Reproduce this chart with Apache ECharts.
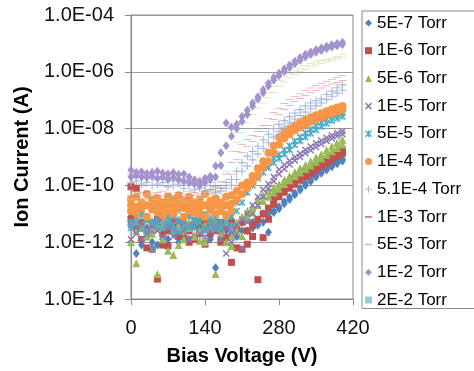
<!DOCTYPE html>
<html><head><meta charset="utf-8">
<script src="https://cdn.jsdelivr.net/npm/echarts@6/dist/echarts.min.js"></script>
<style>html,body{margin:0;padding:0;background:#fff}#c{width:474px;height:371px}</style>
</head><body><div id="c"></div>
<script>
// Bias voltage (V)
const voltages = [0,10,20,30,40,50,60,70,80,90,100,110,120,130,140,150,160,170,180,190,200,210,220,230,240,250,260,270,280,290,300,310,320,330,340,350,360,370,380,390,400];
const xTicks = [0, 420, 140];           // min, max, step
const yTickExps = [-14, -4, 2];         // log10 of min, max, step
const seriesNames = ['5E-7 Torr','1E-6 Torr','5E-6 Torr','1E-5 Torr','5E-5 Torr','1E-4 Torr','5.1E-4 Torr','1E-3 Torr','5E-3 Torr','1E-2 Torr','2E-2 Torr'];

// log10 of ion current (A); sweep a / sweep b per pressure
const p5e7a = [-11.4,-11.6,-12.1,-11.5,-11.3,-12.1,-11.4,-11.9,-11.5,-11.3,-11.6,-11.4,-11.8,-11.5,-11.3,-11.9,-12.9,-11.6,-11.4,-11.7,-11.5,-11.3,-11.6,-11.3,-11.2,-11.0,-11.65,-10.9,-10.75,-10.58,-10.42,-10.27,-10.1,-9.93,-9.78,-9.64,-9.51,-9.4,-9.28,-9.18,-9.08];
const p5e7b = [-11.1,-12.4,-11.3,-11.8,-12.0,-11.2,-11.9,-11.3,-11.7,-12.0,-11.4,-11.9,-11.3,-11.7,-12.0,-11.5,-11.3,-11.9,-11.6,-11.2,-11.8,-11.6,-11.2,-11.5,-11.4,-11.3,-11.0,-10.95,-10.82,-10.65,-10.5,-10.33,-10.16,-10.0,-9.85,-9.7,-9.57,-9.46,-9.34,-9.24,-9.14];
const p1e6a = [-10.05,-11.5,-11.9,-12.2,-11.4,-13.3,-12.1,-11.6,-11.3,-11.8,-11.4,-11.6,-11.9,-11.3,-12.07,-11.7,-11.5,-12.0,-11.84,-12.71,-12.2,-12.25,-12.07,-11.8,-13.32,-11.84,-11.19,-10.67,-10.4,-10.24,-10.1,-9.96,-9.82,-9.7,-9.58,-9.45,-9.33,-9.22,-9.1,-8.98,-8.87];
const p1e6b = [-11.2,-10.1,-11.3,-11.6,-12.25,-11.2,-11.7,-12.13,-11.5,-11.3,-11.8,-12.0,-11.4,-11.7,-11.3,-11.5,-11.6,-11.3,-11.5,-11.3,-11.5,-11.3,-11.6,-11.4,-11.2,-11.0,-10.8,-10.5,-10.25,-10.08,-9.94,-9.8,-9.67,-9.55,-9.43,-9.3,-9.18,-9.07,-8.96,-8.86,-8.76];
const p5e6a = [-12.0,-12.74,-11.5,-11.2,-11.7,-13.12,-11.4,-12.3,-12.45,-12.1,-11.6,-11.3,-11.8,-11.95,-11.4,-11.2,-13.12,-11.5,-11.3,-11.8,-11.3,-11.1,-10.9,-10.75,-10.49,-10.35,-10.2,-10.08,-9.96,-9.8,-9.67,-9.53,-9.4,-9.28,-9.15,-9.02,-8.9,-8.75,-8.62,-8.5,-8.39];
const p5e6b = [-11.3,-11.6,-11.0,-11.8,-11.3,-11.5,-11.9,-11.2,-11.6,-11.4,-11.9,-11.5,-11.2,-11.6,-12.0,-11.5,-11.3,-11.7,-12.0,-12.13,-11.6,-11.78,-11.1,-10.95,-10.7,-10.55,-10.4,-10.25,-10.12,-9.95,-9.82,-9.68,-9.55,-9.42,-9.3,-9.17,-9.05,-8.92,-8.8,-8.68,-8.56];
const p1e5a = [-11.9,-11.5,-11.3,-11.7,-11.4,-11.6,-11.2,-11.5,-11.8,-11.3,-11.6,-11.4,-11.2,-11.7,-11.5,-11.3,-11.6,-11.6,-12.4,-11.5,-11.4,-11.2,-11.0,-10.7,-10.4,-10.15,-9.95,-9.7,-9.44,-9.28,-9.13,-9.0,-8.88,-8.75,-8.63,-8.52,-8.42,-8.32,-8.24,-8.16,-8.09];
const p1e5b = [-11.4,-11.7,-11.9,-11.2,-11.6,-11.3,-11.8,-11.4,-11.2,-11.7,-11.4,-11.9,-11.5,-11.3,-11.8,-11.6,-11.4,-11.9,-11.5,-12.0,-11.7,-12.2,-11.3,-11.0,-10.7,-10.4,-10.1,-9.85,-9.6,-9.42,-9.26,-9.12,-9.0,-8.87,-8.76,-8.65,-8.54,-8.44,-8.35,-8.27,-8.2];
const p5e5a = [-11.3,-11.1,-11.5,-11.2,-12.25,-11.4,-11.0,-11.3,-11.6,-11.2,-11.4,-11.1,-11.5,-11.3,-11.0,-11.4,-11.2,-11.5,-11.3,-11.1,-10.6,-10.3,-10.0,-9.75,-9.55,-9.38,-9.2,-9.05,-8.91,-8.75,-8.6,-8.44,-8.3,-8.15,-8.02,-7.9,-7.78,-7.66,-7.56,-7.5,-7.45];
const p5e5b = [-11.5,-11.3,-11.0,-11.6,-11.3,-11.2,-11.5,-11.1,-11.4,-11.6,-11.2,-11.5,-11.3,-11.1,-11.6,-11.2,-11.5,-11.3,-11.0,-11.4,-10.9,-10.6,-10.25,-10.0,-9.75,-9.55,-9.38,-9.2,-9.05,-8.9,-8.75,-8.58,-8.44,-8.3,-8.17,-8.05,-7.93,-7.82,-7.72,-7.64,-7.57];
const p1e4a = [-10.5,-10.4,-10.6,-10.3,-10.5,-10.45,-10.6,-10.4,-10.5,-10.35,-10.55,-10.4,-10.6,-10.5,-10.3,-10.55,-10.45,-10.6,-10.4,-10.35,-10.2,-10.0,-9.9,-9.67,-9.4,-9.15,-8.85,-8.6,-8.3,-8.12,-8.0,-7.88,-7.78,-7.68,-7.6,-7.53,-7.46,-7.39,-7.32,-7.26,-7.2];
const p1e4b = [-10.9,-11.0,-10.8,-11.1,-10.85,-10.95,-11.05,-10.9,-11.0,-10.8,-11.1,-10.9,-10.95,-11.0,-11.1,-10.85,-11.0,-10.9,-11.05,-10.9,-10.5,-10.3,-10.1,-9.9,-9.65,-9.4,-9.15,-8.85,-8.56,-8.35,-8.2,-8.06,-7.95,-7.85,-7.76,-7.68,-7.6,-7.53,-7.46,-7.4,-7.34];
const p1e4c = [-10.7,-10.75,-10.7,-10.7,-10.68,-10.72,-10.8,-10.65,-10.75,-10.6,-10.8,-10.65,-10.78,-10.75,-10.7,-10.72,-10.7,-10.75,-10.7,-10.65];
const p51e4a = [-9.6,-9.7,-9.65,-9.75,-9.7,-9.8,-9.72,-9.78,-9.85,-9.75,-9.8,-9.9,-9.85,-9.95,-10.0,-9.9,-10.05,-10.1,-9.9,-9.79,-9.5,-9.2,-8.97,-8.8,-8.62,-8.4,-8.2,-8.0,-7.85,-7.72,-7.58,-7.45,-7.33,-7.2,-7.1,-7.02,-6.95,-6.8,-6.68,-6.56,-6.46];
const p51e4b = [-9.9,-9.85,-9.95,-9.9,-10.0,-9.95,-9.9,-10.05,-10.0,-9.95,-10.1,-10.0,-10.15,-10.1,-10.2,-10.15,-10.25,-10.2,-10.1,-10.0,-9.79,-9.5,-9.32,-9.1,-8.9,-8.7,-8.5,-8.3,-8.1,-7.95,-7.8,-7.66,-7.54,-7.42,-7.3,-7.2,-7.1,-6.98,-6.86,-6.75,-6.65];
const p1e3a = [-10.15,-10.2,-10.25,-10.2,-10.3,-10.25,-10.2,-10.3,-10.35,-10.25,-10.3,-10.2,-10.25,-10.3,-10.2,-10.15,-10.0,-9.85,-9.6,-9.2,-8.8,-8.55,-8.38,-8.25,-8.1,-7.9,-7.65,-7.44,-7.28,-7.12,-6.98,-6.88,-6.78,-6.67,-6.57,-6.48,-6.4,-6.33,-6.26,-6.2,-6.14];
const p1e3b = [-10.35,-10.4,-10.3,-10.45,-10.4,-10.35,-10.5,-10.4,-10.45,-10.5,-10.4,-10.45,-10.35,-10.5,-10.4,-10.3,-10.2,-10.1,-9.9,-9.6,-9.1,-8.85,-8.62,-8.45,-8.27,-8.1,-7.9,-7.68,-7.5,-7.33,-7.18,-7.05,-6.94,-6.84,-6.74,-6.65,-6.57,-6.5,-6.43,-6.37,-6.31];
const p5e3a = [-10.3,-10.25,-10.35,-10.3,-10.4,-10.3,-10.35,-10.25,-10.4,-10.3,-10.35,-10.4,-10.3,-10.35,-10.25,-10.2,-10.1,-9.9,-9.5,-8.8,-8.14,-7.8,-7.5,-7.25,-7.05,-6.9,-6.72,-6.5,-6.3,-6.15,-6.05,-5.95,-5.87,-5.78,-5.7,-5.65,-5.6,-5.56,-5.52,-5.45,-5.38];
const p5e3b = [-10.5,-10.45,-10.55,-10.5,-10.6,-10.5,-10.55,-10.45,-10.6,-10.5,-10.55,-10.6,-10.5,-10.45,-10.4,-10.35,-10.3,-10.2,-9.9,-9.2,-8.5,-8.14,-7.8,-7.5,-7.28,-7.1,-6.92,-6.72,-6.52,-6.36,-6.22,-6.1,-6.0,-5.91,-5.83,-5.76,-5.7,-5.65,-5.6,-5.54,-5.48];
const p1e2a = [-9.46,-9.55,-9.52,-9.58,-9.55,-9.5,-9.56,-9.6,-9.55,-9.62,-9.6,-9.7,-9.8,-9.85,-9.75,-9.68,-9.32,-8.85,-7.8,-7.95,-7.85,-7.57,-7.35,-7.1,-6.88,-6.63,-6.4,-6.2,-6.05,-5.9,-5.76,-5.63,-5.5,-5.38,-5.3,-5.22,-5.16,-5.1,-5.05,-5.0,-4.96];
const p1e2b = [-9.7,-9.65,-9.7,-9.72,-9.68,-9.75,-9.7,-9.78,-9.72,-9.8,-9.85,-9.9,-9.95,-10.0,-9.9,-9.79,-9.7,-9.3,-8.6,-8.27,-8.0,-7.75,-7.5,-7.2,-6.97,-6.74,-6.5,-6.3,-6.14,-5.99,-5.85,-5.72,-5.6,-5.48,-5.39,-5.31,-5.25,-5.19,-5.13,-5.08,-5.04];
const p2e2a = [-11.0,-11.2,-10.9,-11.1,-11.3,-11.0,-10.8,-11.2,-11.1,-10.9,-11.3,-11.0,-11.2,-10.9,-11.1,-11.0,-11.2,-10.8,-11.1,-11.0];

const sweeps = [[p5e7a,p5e7b],[p1e6a,p1e6b],[p5e6a,p5e6b],[p1e5a,p1e5b],[p5e5a,p5e5b],[p1e4b,p1e4c,p1e4a],[p51e4a,p51e4b],[p1e3a,p1e3b],[p5e3a,p5e3b],[p1e2a,p1e2b],[p2e2a]];

const X_PATH = 'path://M0,1.5L1.5,0L5,3.5L8.5,0L10,1.5L6.5,5L10,8.5L8.5,10L5,6.5L1.5,10L0,8.5L3.5,5Z';
const STAR_PATH = 'path://M0,1.5L1.5,0L5,3.5L8.5,0L10,1.5L6.5,5L10,8.5L8.5,10L5,6.5L1.5,10L0,8.5L3.5,5Z M4.3,0H5.7V10H4.3Z';
const PLUS_PATH = 'path://M4.3,0H5.7V4.3H10V5.7H5.7V10H4.3V5.7H0V4.3H4.3Z';
const DASH_PATH = 'path://M0,0H10V2.4H0Z';
const styles = [
  {c:'#4F81BD', s:'diamond', z:[7,9]},
  {c:'#C0504D', s:'rect', z:7},
  {c:'#9BBB59', s:'triangle', z:8},
  {c:'#8C78B4', s:X_PATH, z:7},
  {c:'#4BACC6', s:STAR_PATH, z:7},
  {c:'#F79646', s:'circle', z:8},
  {c:'#A9B9DA', s:PLUS_PATH, z:8},
  {c:'#D9707C', s:DASH_PATH, z:[8,2]},
  {c:'#BDD28F', s:DASH_PATH, z:[8,2]},
  {c:'#A293CC', s:'diamond', z:[7,9]},
  {c:'#93CDDD', s:'rect', z:6}
];

const series = seriesNames.map((name, i) => {
  const data = [];
  sweeps[i].forEach(sw => sw.forEach((v, k) => { if (v != null) data.push([voltages[k], Math.pow(10, v)]); }));
  return {
    name, type: 'scatter', data, z: i === 10 ? 1 : 2,
    symbol: styles[i].s, symbolSize: styles[i].z, symbolKeepAspect: true,
    itemStyle: {color: styles[i].c, opacity: 1},
    emphasis: {disabled: true}, animation: false
  };
});

const font = 'Liberation Sans, Arial, sans-serif';
const chart = echarts.init(document.getElementById('c'), null, {renderer: 'canvas'});
chart.setOption({
  animation: false,
  backgroundColor: '#fff',
  grid: {left: 131, top: 15, width: 222, height: 285, show: true, borderColor: '#8a8a8a', borderWidth: 1, containLabel: false},
  legend: {
    orient: 'vertical', left: 362, top: 11,
    itemWidth: 7, itemHeight: 7, itemGap: 10.7,
    padding: [3.5, 40, 0, 3],
    borderColor: '#8a8a8a', borderWidth: 1,
    textStyle: {fontFamily: font, fontSize: 17, color: '#000', lineHeight: 17},
    data: seriesNames.map((n, i) => ({name: n, icon: styles[i].s}))
  },
  xAxis: {
    type: 'value', min: xTicks[0], max: xTicks[1], interval: xTicks[2],
    name: 'Bias Voltage (V)', nameLocation: 'middle', nameGap: 47,
    nameTextStyle: {fontFamily: font, fontSize: 20, fontWeight: 'bold', color: '#000'},
    axisLine: {show: true, lineStyle: {color: '#8a8a8a'}},
    axisTick: {show: true, length: 6, lineStyle: {color: '#8a8a8a'}},
    axisLabel: {fontFamily: font, fontSize: 20, color: '#111', margin: 19},
    splitLine: {show: false}
  },
  yAxis: {
    type: 'log', logBase: 10, min: Math.pow(10, yTickExps[0]), max: Math.pow(10, yTickExps[1]), interval: yTickExps[2],
    name: 'Ion Current (A)', nameLocation: 'middle', nameGap: 99,
    nameTextStyle: {fontFamily: font, fontSize: 20, fontWeight: 'bold', color: '#000'},
    axisLine: {show: true, lineStyle: {color: '#8a8a8a'}},
    axisTick: {show: true, length: 6, lineStyle: {color: '#8a8a8a'}},
    axisLabel: {fontFamily: font, fontSize: 20, color: '#111', margin: 17,
      formatter: v => { const e = Math.round(Math.log10(v)); return '1.0E' + (e < 0 ? '-' : '+') + String(Math.abs(e)).padStart(2, '0'); }},
    splitLine: {show: true, lineStyle: {color: '#9a9a9a'}},
    minorTick: {show: false}
  },
  series
});
</script></body></html>
